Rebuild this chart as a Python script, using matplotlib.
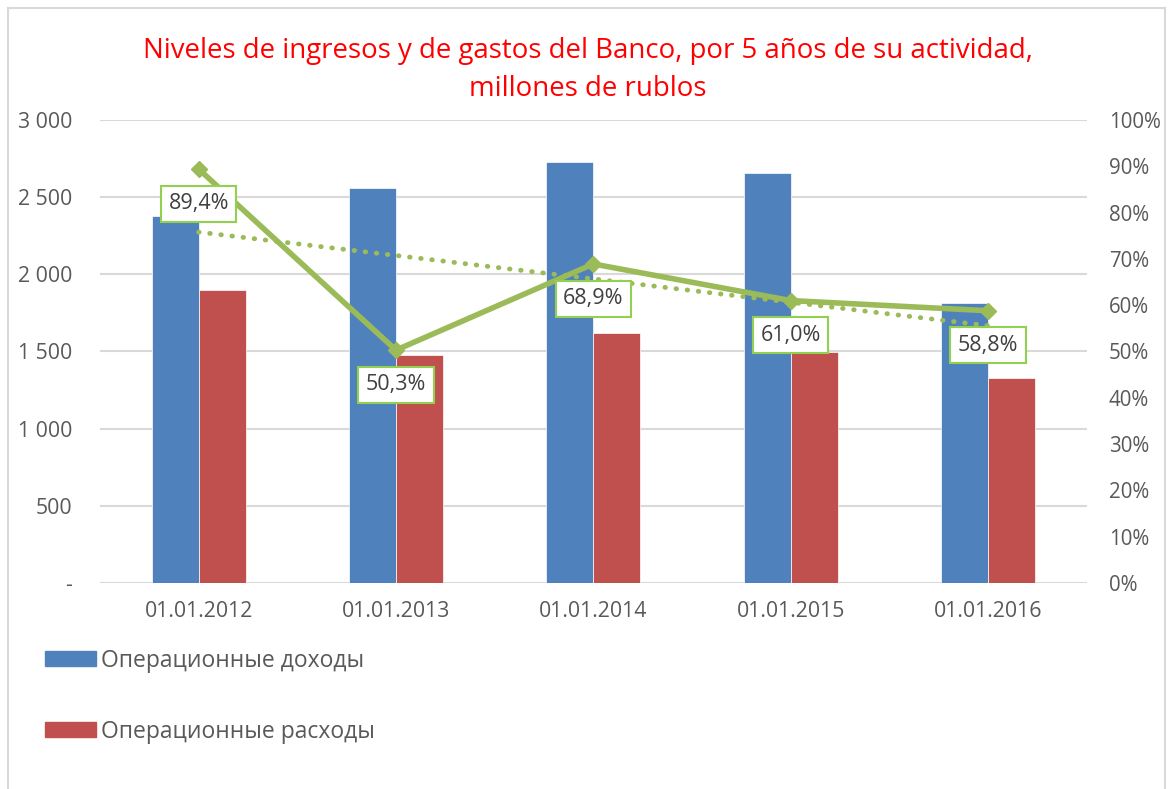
import numpy as np
import matplotlib.pyplot as plt
from matplotlib.patches import Patch
from matplotlib.lines import Line2D

plt.rcParams['font.family'] = ['Open Sans', 'DejaVu Sans']

dates = ["01.01.2012", "01.01.2013", "01.01.2014", "01.01.2015", "01.01.2016"]
income = [2380, 2560, 2728, 2657, 1812]
expenses = [1899, 1477, 1620, 1497, 1330]
ratio = [89.4, 50.3, 68.9, 61.0, 58.8]
ratio_labels = ["89,4%", "50,3%", "68,9%", "61,0%", "58,8%"]

blue = "#4F81BD"
red = "#C0504D"
green = "#9BBB59"
gray = "#595959"
grid = "#D9D9D9"

fig = plt.figure(figsize=(11.76, 7.89), dpi=100)
ax = fig.add_axes([0.085, 0.261, 0.839, 0.587])
ax2 = ax.twinx()

x = np.arange(len(dates))
w = 0.238
ax.bar(x - w / 2, income, w, color=blue, edgecolor="white", linewidth=0.5, zorder=2)
ax.bar(x + w / 2, expenses, w, color=red, edgecolor="white", linewidth=0.5, zorder=2)

ax.set_xlim(-0.5, 4.5)
ax.set_ylim(0, 3000)
ax.set_yticks(range(0, 3001, 500))
ax.set_yticklabels(["-" if v == 0 else f"{v // 1000} {v % 1000:03d}" if v >= 1000 else str(v)
                    for v in range(0, 3001, 500)])
ax.set_xticks(x)
ax.set_xticklabels(dates)
ax.yaxis.grid(True, color=grid, linewidth=1.5, zorder=0)
ax.set_axisbelow(True)
for s in ax.spines.values():
    s.set_visible(False)
for s in ax2.spines.values():
    s.set_visible(False)
ax.tick_params(axis="both", length=0, labelsize=15.3, colors=gray)
ax.tick_params(axis="y", pad=20)
ax.tick_params(axis="x", pad=13)

# trend line (linear fit of the ratio)
k, b = np.polyfit(x, ratio, 1)
ax2.plot(x, k * x + b, color=green, linestyle=(0, (0.1, 2.2)), linewidth=3.5,
         dash_capstyle="round", zorder=3)
ax2.plot(x, ratio, color=green, linewidth=4, marker="D", markersize=8, zorder=4)
ax2.set_ylim(0, 100)
ax2.set_yticks(range(0, 101, 10))
ax2.set_yticklabels([f"{v}%" for v in range(0, 101, 10)])
ax2.tick_params(axis="y", length=0, labelsize=14.8, colors=gray, pad=16)

for xi, yi, lab in zip(x, ratio, ratio_labels):
    ax2.annotate(lab, (xi, yi), xytext=(0, -25), textcoords="offset points",
                 ha="center", va="center", fontsize=15.5, color="#404040", zorder=5,
                 bbox=dict(boxstyle="square,pad=0.35", fc="white", ec="#92D050", lw=1.5))

fig.text(0.5, 0.953, "Niveles de ingresos y de gastos del Banco, por 5 años de su actividad,\nmillones de rublos",
         ha="center", va="top", fontsize=19.9, color="red", linespacing=1.45)

handles = [Patch(color=blue), Patch(color=red)]
fig.legend(handles, ["Операционные доходы", "Операционные расходы"],
           loc="upper left", bbox_to_anchor=(0.038, 0.178), frameon=False,
           fontsize=16.5, labelcolor=gray, handlelength=2.25, handleheight=0.65,
           handletextpad=0.2, labelspacing=2.05, borderaxespad=0, borderpad=0)

# chart border
for xs, ys in [([0.007, 0.007], [0, 0.99]), ([0.007, 0.991], [0.99, 0.99]), ([0.991, 0.991], [0, 0.99])]:
    fig.add_artist(Line2D(xs, ys, color=grid, linewidth=1.5, transform=fig.transFigure))

fig.savefig("out.png", dpi=100)
